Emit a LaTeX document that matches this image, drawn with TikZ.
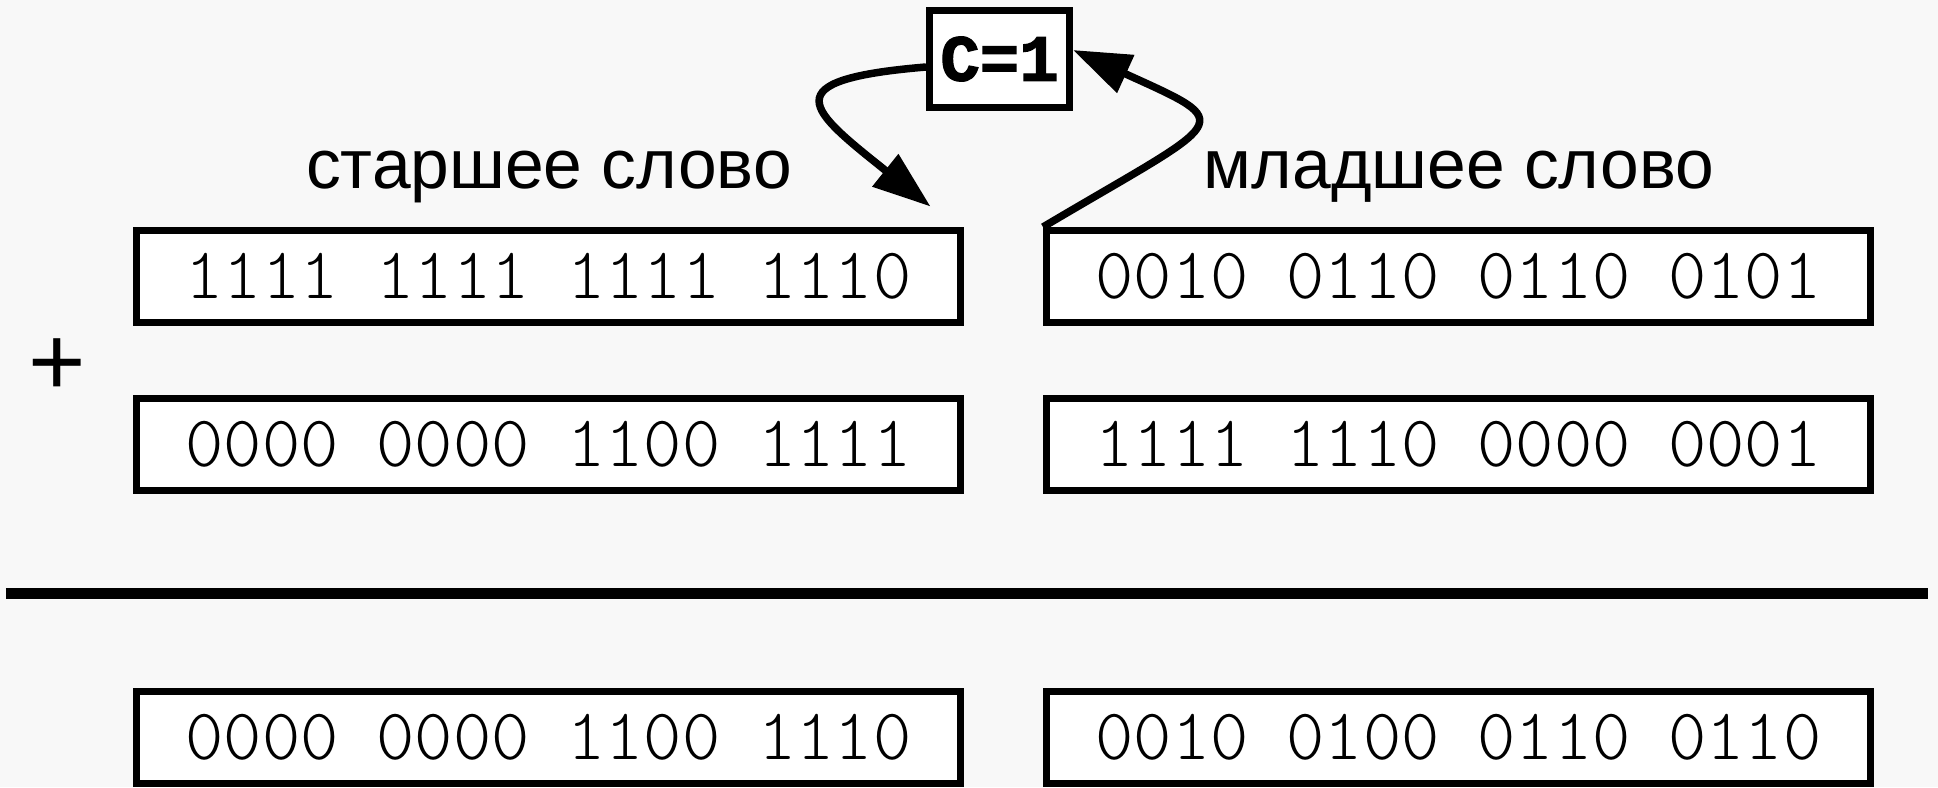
\documentclass[tikz,border=0pt]{standalone}
\usepackage{fontspec}
\setmainfont{Liberation Sans}
\newfontfamily\flagfont[BoldFeatures={FakeBold=2}]{Liberation Mono}
\newfontfamily\digitfont{lmmonolt10-regular.otf}
\usetikzlibrary{arrows.meta, positioning}
\definecolor{bgGray}{HTML}{F8F8F8}

\begin{document}
\begin{tikzpicture}[
    word/.style={rectangle, draw, line width=0.07cm, fill=white, minimum width=8.24cm, minimum height=0.92cm, inner sep=0pt, font=\digitfont\fontsize{20.7pt}{24pt}\selectfont},
    flag/.style={rectangle, draw, line width=0.07cm, fill=white, minimum width=1.40cm, minimum height=0.97cm, inner sep=0pt, font=\flagfont\bfseries\fontsize{18.7pt}{22pt}\selectfont},
    caption/.style={anchor=base, inner sep=0pt, font=\fontsize{19.8pt}{24pt}\selectfont},
    carryarrow/.style={line width=0.075cm, -{Triangle[length=0.58cm, width=0.40cm]}}
]
    \fill[bgGray] (0,0) rectangle (19.38,7.87);
    \useasboundingbox (0,0) rectangle (19.38,7.87);

    \node[word] (hiTop) at (5.485, 5.105) {1111 1111 1111 1110};
    \node[word] (loTop) at (14.585, 5.105) {0010 0110 0110 0101};
    \node[word] (hiMid) at (5.485, 3.426) {0000 0000 1100 1111};
    \node[word] (loMid) at (14.585, 3.426) {1111 1110 0000 0001};
    \node[word] (hiSum) at (5.485, 0.495) {0000 0000 1100 1110};
    \node[word] (loSum) at (14.585, 0.495) {0010 0100 0110 0110};

    \node[caption] (hiLabel) at (5.49, 5.99) {старшее слово};
    \node[caption] (loLabel) at (14.59, 5.99) {младшее слово};

    \node[font=\fontsize{28pt}{30pt}\selectfont, inner sep=0pt] (plus) at (0.575, 4.195) {+};

    \node[flag] (carry) at (9.995, 7.28) {C=1};

    \draw[line width=0.115cm] (0.06, 1.935) -- (19.28, 1.935);

    \draw[carryarrow] ([yshift=-0.08cm]carry.west) .. controls (7.70, 7.07) and (8.10, 6.77) .. ([shift={(-0.335,0.205)}]hiTop.north east);
    \draw[carryarrow] (loTop.north west) .. controls (12.30, 6.71) and (12.40, 6.61) .. ([yshift=0.09cm]carry.east);
\end{tikzpicture}
\end{document}
